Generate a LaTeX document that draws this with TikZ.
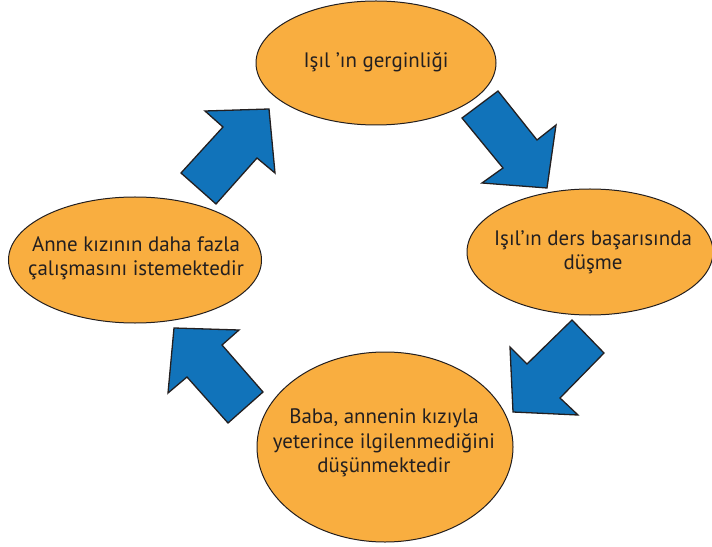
\documentclass[tikz,border=0pt]{standalone}
\usepackage{fontspec}
\setmainfont{PT Sans}
\usetikzlibrary{shapes.geometric}
\definecolor{ovalfill}{HTML}{F9AE40}
\definecolor{arrowblue}{HTML}{1173BA}
\definecolor{inkline}{HTML}{231F20}
\tikzset{
  oval/.style={ellipse, draw=inkline, line width=1bp, fill=ovalfill, inner sep=0pt, outer sep=0pt},
  ovaltext/.style={text=inkline, align=center, inner sep=0pt, font=\fontsize{21}{24.5}\selectfont},
  blockarrow/.style={draw=inkline, line width=1.3bp, fill=arrowblue, line join=miter}
}
\begin{document}
\begin{tikzpicture}[x=1bp,y=-1bp]
\useasboundingbox (0,0) rectangle (712,547);
% ovals
\node[oval, minimum width=240bp, minimum height=124bp] (tension) at (376,63) {};
\node[ovaltext] (tensiontext) at (376,62) {Işıl ’ın gerginliği};
\node[oval, minimum width=246bp, minimum height=126bp] (grades) at (590,252) {};
\node[ovaltext] (gradestext) at (593,252) {Işıl’ın ders başarısında\\düşme};
\node[oval, minimum width=256bp, minimum height=190bp] (father) at (385,447) {};
\node[ovaltext] (fathertext) at (384,443) {Baba, annenin kızıyla\\yeterince ilgilenmediğini\\düşünmektedir};
\node[oval, minimum width=253bp, minimum height=126bp] (mother) at (135,260) {};
\node[ovaltext] (mothertext) at (136,258) {Anne kızının daha fazla\\çalışmasını istemektedir};
% block arrows
\draw[blockarrow] (205,111) -- (269,109) -- (275,173) -- (257,158) -- (216,204) -- (181,173) -- (223,127) -- cycle;
\draw[blockarrow] (462,118) -- (498,91) -- (537,140) -- (556,125) -- (547,188) -- (482,183) -- (503,168) -- cycle;
\draw[blockarrow] (572,320) -- (604,353) -- (560,398) -- (578,415) -- (513,412) -- (510,347) -- (527,364) -- cycle;
\draw[blockarrow] (174,328) -- (239,330) -- (222,345) -- (263,392) -- (228,423) -- (187,377) -- (168,393) -- cycle;
\end{tikzpicture}
\end{document}
